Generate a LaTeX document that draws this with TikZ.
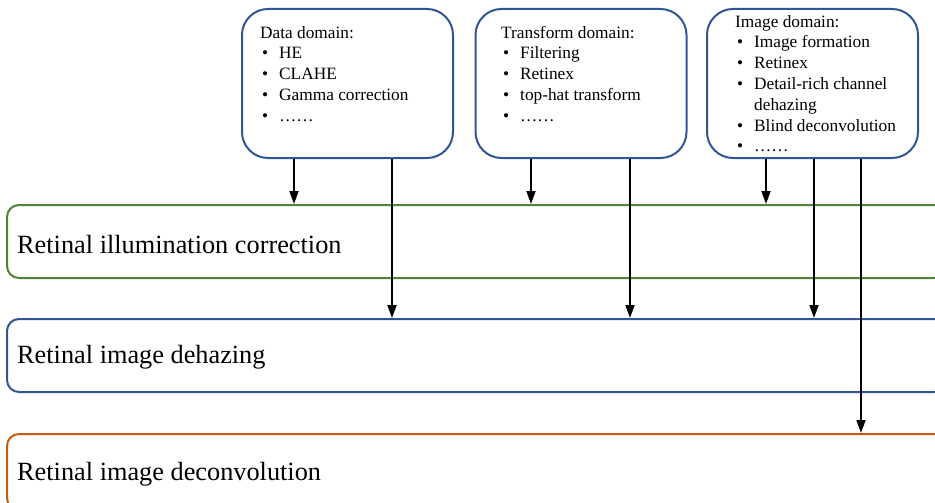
\documentclass[tikz,border=0pt]{standalone}
\usepackage{fontspec}
\setmainfont{Liberation Serif}
\usetikzlibrary{arrows.meta}

\definecolor{boxblue}{HTML}{2F5597}
\definecolor{boxgreen}{HTML}{548235}
\definecolor{boxorange}{HTML}{C55A11}

\newcommand{\itm}{\makebox[19pt][l]{\hspace{2pt}•}}
\newcommand{\smallfont}{\fontsize{17.3}{20.8}\selectfont}

\begin{document}
\begin{tikzpicture}[x=1pt,y=-1pt,
  domainbox/.style={draw=boxblue,line width=2pt,rounded corners=26pt,
    minimum width=211pt,minimum height=149pt,inner sep=0pt},
  stagebox/.style={line width=2pt,rounded corners=12pt,
    minimum width=939pt,inner sep=0pt},
  listtext/.style={anchor=north west,inner sep=0pt,align=left,font=\smallfont},
  stagetext/.style={anchor=base west,inner sep=0pt,font=\fontsize{26.3}{30}\selectfont},
  arr/.style={line width=1.9pt,-{Triangle[length=13pt,width=9pt]}}]
\useasboundingbox (0,0) rectangle (935,503);

% method boxes
\node[domainbox] (data) at (347.5,83.5) {};
\node[domainbox] (trans) at (581,83.5) {};
\node[domainbox] (img) at (812.5,83.5) {};

\node[listtext] (datatxt) at (260,23.4) {%
  \begin{tabular}{@{}l@{}}
  Data domain:\\
  \itm HE\\
  \itm CLAHE\\
  \itm Gamma correction\\
  \itm ……
  \end{tabular}};
\node[listtext] (transtxt) at (501,23.4) {%
  \begin{tabular}{@{}l@{}}
  Transform domain:\\
  \itm Filtering\\
  \itm Retinex\\
  \itm top-hat transform\\
  \itm ……
  \end{tabular}};
\node[listtext] (imgtxt) at (735,12.4) {%
  \begin{tabular}{@{}l@{}}
  Image domain:\\
  \itm Image formation\\
  \itm Retinex\\
  \itm Detail-rich channel\\
  \makebox[19pt][l]{}dehazing\\
  \itm Blind deconvolution\\
  \itm ……
  \end{tabular}};

% processing stages
\node[stagebox,draw=boxgreen,minimum height=73pt] (ill) at (476.5,241.5) {};
\node[stagebox,draw=boxblue,minimum height=73pt] (deh) at (476.5,355.5) {};
\node[stagebox,draw=boxorange,minimum height=76pt] (dec) at (476.5,472) {};

\node[stagetext] (illtxt) at (17,253) {Retinal illumination correction};
\node[stagetext] (dehtxt) at (17,363) {Retinal image dehazing};
\node[stagetext] (dectxt) at (17,480) {Retinal image deconvolution};

% arrow start points on the method boxes
\coordinate (d1) at ([xshift=53pt]data.south west);
\coordinate (d2) at ([xshift=151pt]data.south west);
\coordinate (t1) at ([xshift=56.5pt]trans.south west);
\coordinate (t2) at ([xshift=155.5pt]trans.south west);
\coordinate (i1) at ([xshift=60pt]img.south west);
\coordinate (i2) at ([xshift=108pt]img.south west);
\coordinate (i3) at ([xshift=155pt]img.south west);

\draw[arr] (d1) -- (d1 |- ill.north);
\draw[arr] (d2) -- (d2 |- deh.north);
\draw[arr] (t1) -- (t1 |- ill.north);
\draw[arr] (t2) -- (t2 |- deh.north);
\draw[arr] (i1) -- (i1 |- ill.north);
\draw[arr] (i2) -- (i2 |- deh.north);
\draw[arr] (i3) -- (i3 |- dec.north);
\end{tikzpicture}
\end{document}
